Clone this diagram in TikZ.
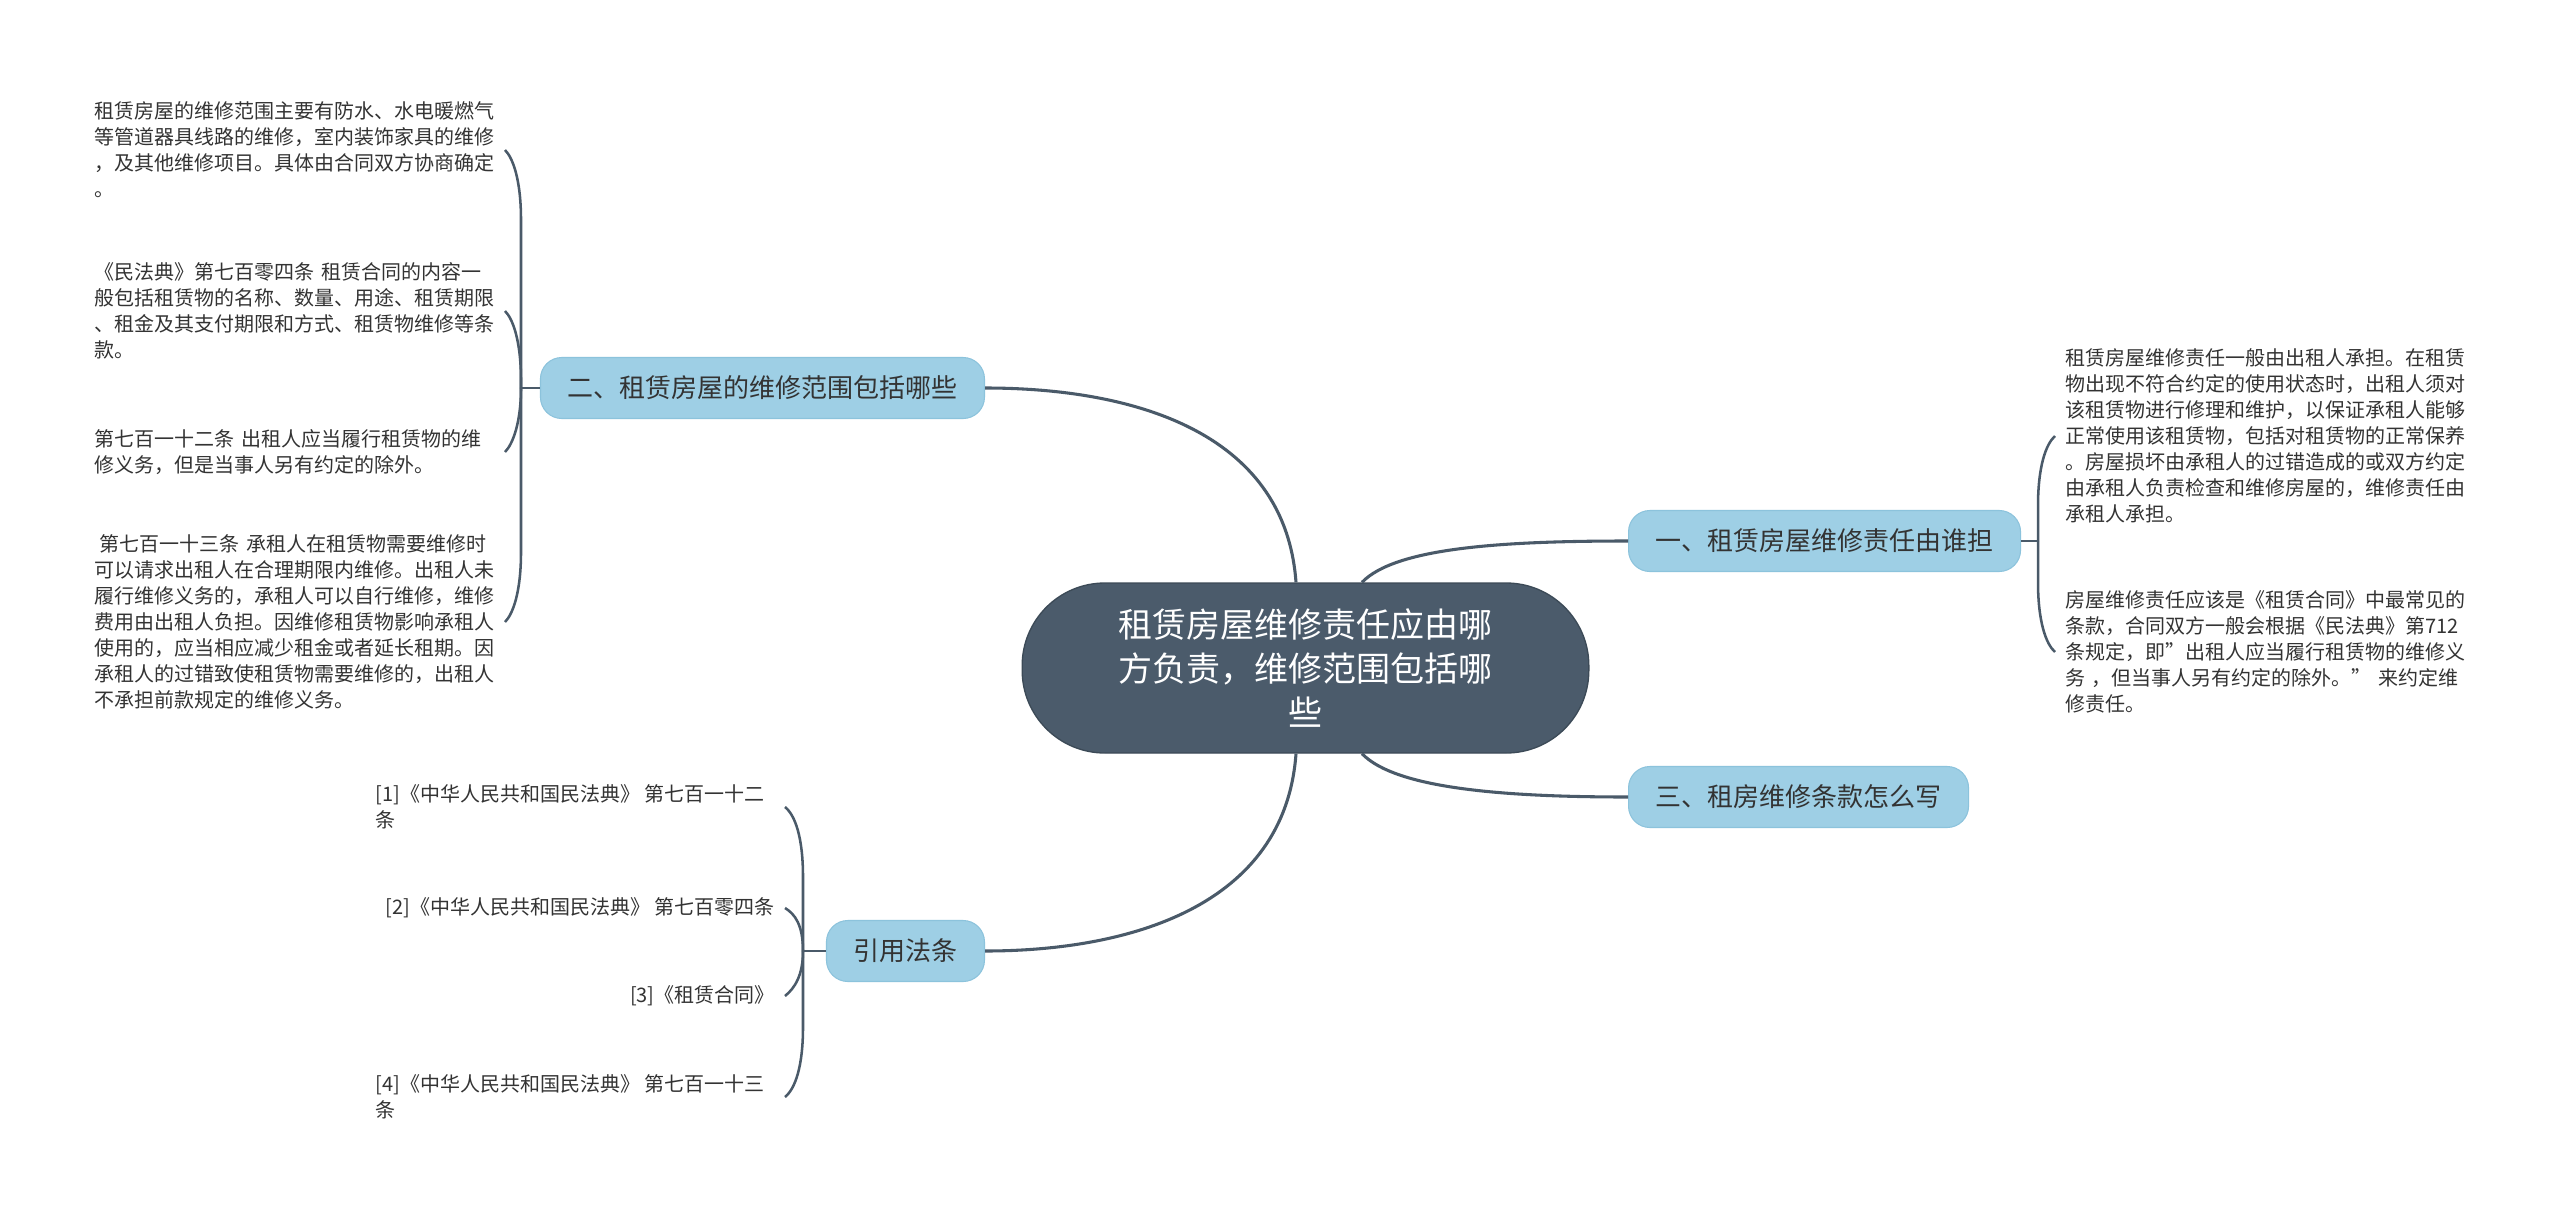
\documentclass[tikz,border=0pt]{standalone}
\usepackage{fontspec}
\setmainfont{Noto Sans CJK SC}
\usetikzlibrary{calc}
\definecolor{linec}{HTML}{4A5A69}
\definecolor{cfill}{HTML}{4B5B6B}
\definecolor{cborder}{HTML}{3C4A57}
\definecolor{bfill}{HTML}{9ECFE5}
\definecolor{bborder}{HTML}{8CC3DC}
\definecolor{textc}{HTML}{333333}
\tikzset{
 conn/.style={draw=linec, line width=2.3pt},
 brk/.style={draw=linec, line width=1.9pt},
 centerbox/.style={fill=cfill, draw=cborder, line width=1pt, rounded corners=62pt,
   minimum width=425pt, minimum height=127.5pt, align=center, text=white,
   font=\fontsize{25.5pt}{33pt}\selectfont},
 branchbox/.style={fill=bfill, draw=bborder, line width=0.8pt, rounded corners=16pt,
   minimum height=45.75pt, inner xsep=20.25pt, inner ysep=0pt, text=textc,
   font=\fontsize{19.5pt}{24pt}\selectfont},
 leaf/.style={text=textc, align=left, inner xsep=7.5pt, inner ysep=3pt,
   font=\fontsize{15pt}{19.5pt}\selectfont},
 leafw/.style={leaf, text width=300pt},
}
\begin{document}
\begin{tikzpicture}[x=0.75pt,y=-0.75pt]
\useasboundingbox[fill=white] (0,0) rectangle (2560,1217);

% center and branches
\node[centerbox] (c) at (1305.5,668) {租赁房屋维修责任应由哪\\方负责，维修范围包括哪\\些};
\node[branchbox, anchor=east] (b2) at (985,388) {二、租赁房屋的维修范围包括哪些};
\node[branchbox, anchor=west] (b1) at (1628,541) {一、租赁房屋维修责任由谁担};
\node[branchbox, anchor=west] (b3) at (1628,797) {三、租房维修条款怎么写};
\node[branchbox, anchor=east] (b4) at (985,951) {引用法条};

% left leaves
\node[leafw, anchor=east] (l1) at (505,150) {租赁房屋的维修范围主要有防水、水电暖燃气\\等管道器具线路的维修，室内装饰家具的维修\\，及其他维修项目。具体由合同双方协商确定\\。};
\node[leafw, anchor=east] (l2) at (505,311) {《民法典》第七百零四条 租赁合同的内容一\\般包括租赁物的名称、数量、用途、租赁期限\\、租金及其支付期限和方式、租赁物维修等条\\款。};
\node[leafw, anchor=east] (l3) at (505,452) {第七百一十二条 出租人应当履行租赁物的维\\修义务，但是当事人另有约定的除外。};
\node[leafw, anchor=east] (l4) at (505,622) {\hspace*{0.25em}第七百一十三条 承租人在租赁物需要维修时\\可以请求出租人在合理期限内维修。出租人未\\履行维修义务的，承租人可以自行维修，维修\\费用由出租人负担。因维修租赁物影响承租人\\使用的，应当相应减少租金或者延长租期。因\\承租人的过错致使租赁物需要维修的，出租人\\不承担前款规定的维修义务。};

% right leaves
\node[leafw, anchor=west] (r1) at (2055,436) {租赁房屋维修责任一般由出租人承担。在租赁\\物出现不符合约定的使用状态时，出租人须对\\该租赁物进行修理和维护，以保证承租人能够\\正常使用该租赁物，包括对租赁物的正常保养\\。房屋损坏由承租人的过错造成的或双方约定\\由承租人负责检查和维修房屋的，维修责任由\\承租人承担。};
\node[leafw, anchor=west] (r2) at (2055,652) {房屋维修责任应该是《租赁合同》中最常见的\\条款，合同双方一般会根据《民法典》第712\\条规定，即”出租人应当履行租赁物的维修义\\务 ，但当事人另有约定的除外。” 来约定维\\修责任。};

% bottom leaves
\node[leaf, anchor=east] (q1) at (785,807) {[1]《中华人民共和国民法典》 第七百一十二\hspace*{7.5pt}\\条};
\node[leaf, anchor=east] (q2) at (785,908) {[2]《中华人民共和国民法典》 第七百零四条};
\node[leaf, anchor=east] (q3) at (785,996) {[3]《租赁合同》};
\node[leaf, anchor=east] (q4) at (785,1097) {[4]《中华人民共和国民法典》 第七百一十三\hspace*{7.5pt}\\条};

% center connectors
\draw[conn] ($(c.north)+(-9.5,0)$) .. controls (1285,430) and (1130,388) .. (b2.east);
\draw[conn] ($(c.north)+(56.5,0)$) .. controls (1395,548) and (1500,541) .. (b1.west);
\draw[conn] ($(c.south)+(56.5,0)$) .. controls (1395,788) and (1500,797) .. (b3.west);
\draw[conn] ($(c.south)+(-9.5,0)$) .. controls (1285,906) and (1130,951) .. (b4.east);

% left bracket
\coordinate (s2) at (521,388);
\draw[brk] (b2.west) -- (s2);
\draw[brk] (s2) -- (521,220) .. controls (521,180) and (513,158) .. (l1.east);
\draw[brk] (s2) -- (521,381) .. controls (521,341) and (513,319) .. (l2.east);
\draw[brk] (s2) .. controls (521,422) and (513,444) .. (l3.east);
\draw[brk] (s2) -- (521,552) .. controls (521,592) and (513,614) .. (l4.east);

% right bracket
\coordinate (s1) at (2038,541);
\draw[brk] (b1.east) -- (s1);
\draw[brk] (s1) -- (2038,506) .. controls (2038,466) and (2046,444) .. (r1.west);
\draw[brk] (s1) -- (2038,582) .. controls (2038,622) and (2046,644) .. (r2.west);

% bottom bracket
\coordinate (s4) at (803,951);
\draw[brk] (b4.west) -- (s4);
\draw[brk] (s4) -- (803,877) .. controls (803,837) and (795,815) .. (q1.east);
\draw[brk] (s4) .. controls (803,925) and (795,914) .. (q2.east);
\draw[brk] (s4) .. controls (803,975) and (795,988) .. (q3.east);
\draw[brk] (s4) -- (803,1027) .. controls (803,1067) and (795,1089) .. (q4.east);
\end{tikzpicture}
\end{document}
